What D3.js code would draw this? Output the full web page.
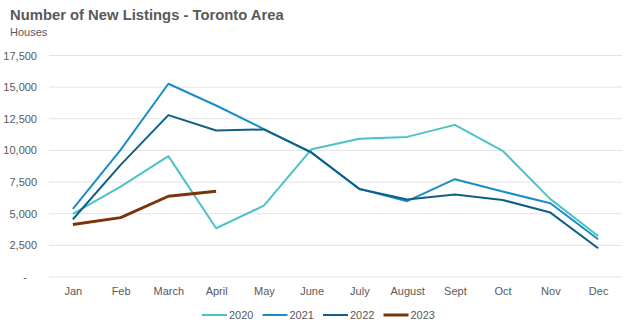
<!DOCTYPE html>
<html>
<head>
<meta charset="utf-8">
<script src="https://cdn.jsdelivr.net/npm/d3@7"></script>
<style>
  body { margin: 0; background: #fff; }
  svg { display: block; font-family: "Liberation Sans", Arial, sans-serif; }
  .grid line { stroke: #e3e3e3; }
  .axis text { fill: #595959; font-size: 11px; }
</style>
</head>
<body>
<div id="chart"></div>
<script>
// chart data
const months = ['Jan', 'Feb', 'March', 'April', 'May', 'June', 'July', 'August', 'Sept', 'Oct', 'Nov', 'Dec'];
const years = ['2020', '2021', '2022', '2023'];
const values2020 = [4980, 7140, 9550, 3850, 5640, 10100, 10920, 11070, 12020, 9970, 6150, 3240];
const values2021 = [5380, 10050, 15270, 13550, 11690, 9800, 6960, 5990, 7730, 6750, 5830, 2980];
const values2022 = [4560, 8860, 12790, 11580, 11660, 9840, 6950, 6130, 6510, 6090, 5090, 2270];
const values2023 = [4140, 4690, 6380, 6780];
const yTicks = [0, 2500, 5000, 7500, 10000, 12500, 15000, 17500];

const colors = ['#4cc2c7', '#1b8dc6', '#0f5f86', '#7a3409'];
const widths = [2, 2, 2, 3];
const series = [values2020, values2021, values2022, values2023];

const width = 624, height = 329;
const margin = { top: 55.5, right: 2, bottom: 52, left: 49 };
const innerW = width - margin.left - margin.right;
const innerH = height - margin.top - margin.bottom;

const svg = d3.select('#chart').append('svg')
  .attr('width', width)
  .attr('height', height);

// titles
svg.append('text')
  .attr('x', 10).attr('y', 20)
  .attr('fill', '#595959')
  .style('font-size', '14.8px')
  .style('font-weight', 'bold')
  .text('Number of New Listings - Toronto Area');

svg.append('text')
  .attr('x', 10).attr('y', 36)
  .attr('fill', '#595959')
  .style('font-size', '11px')
  .text('Houses');

const chart = svg.append('g')
  .attr('transform', `translate(${margin.left},${margin.top})`);

const x = d3.scalePoint()
  .domain(months)
  .range([0, innerW])
  .padding(0.5);

const y = d3.scaleLinear()
  .domain([0, 17500])
  .range([innerH, 0]);

// gridlines
chart.append('g')
  .attr('class', 'grid')
  .selectAll('line')
  .data(yTicks)
  .join('line')
  .attr('x1', 0).attr('x2', innerW)
  .attr('y1', d => y(d)).attr('y2', d => y(d));

// y axis
const yAxis = d3.axisLeft(y)
  .tickValues(yTicks)
  .tickSize(0)
  .tickPadding(12)
  .tickFormat(d => d === 0 ? '-' : d3.format(',')(d));

chart.append('g')
  .attr('class', 'axis')
  .call(yAxis)
  .call(g => g.select('.domain').remove())
  .call(g => g.selectAll('text').filter(d => d === 0).attr('dx', -10));

// x axis
chart.append('g')
  .attr('class', 'axis')
  .attr('transform', `translate(0,${innerH})`)
  .call(d3.axisBottom(x).tickSize(0).tickPadding(10))
  .call(g => g.select('.domain').remove());

// lines
const line = d3.line()
  .x((d, i) => x(months[i]))
  .y(d => y(d));

chart.selectAll('.series')
  .data(series)
  .join('path')
  .attr('class', 'series')
  .attr('fill', 'none')
  .attr('stroke', (d, i) => colors[i])
  .attr('stroke-width', (d, i) => widths[i])
  .attr('stroke-linejoin', 'round')
  .attr('d', line);

// legend
const legend = svg.append('g')
  .attr('transform', 'translate(202,315)');

const item = legend.selectAll('g')
  .data(years)
  .join('g')
  .attr('transform', (d, i) => `translate(${i * 60.5},0)`);

item.append('line')
  .attr('x1', 0).attr('x2', 25)
  .attr('stroke', (d, i) => colors[i])
  .attr('stroke-width', (d, i) => widths[i]);

item.append('text')
  .attr('x', 27).attr('dy', '0.35em')
  .attr('fill', '#595959')
  .style('font-size', '11px')
  .text(d => d);
</script>
</body>
</html>
